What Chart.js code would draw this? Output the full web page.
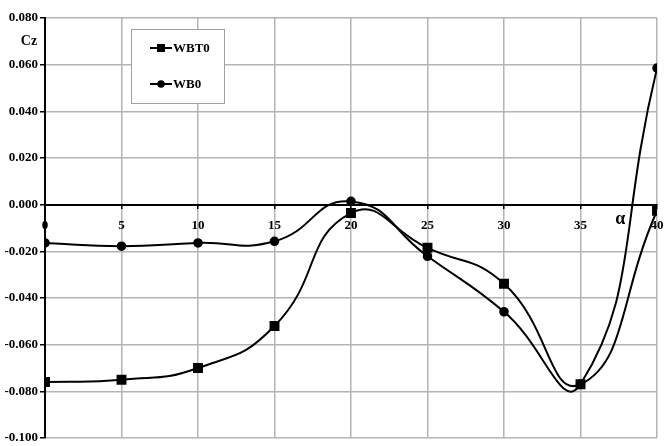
<!DOCTYPE html>
<html>
<head>
<meta charset="utf-8">
<script src="https://cdn.jsdelivr.net/npm/chart.js@4"></script>
<style>
  html, body { margin: 0; padding: 0; background: #fff; }
</style>
</head>
<body>
<canvas id="myChart" width="666" height="446"></canvas>
<script>
var alpha = [0, 5, 10, 15, 20, 25, 30, 35, 40];
var wbt0 = [-0.076, -0.075, -0.070, -0.052, -0.0036, -0.0185, -0.0339, -0.077, -0.0026];
var wb0 = [-0.0164, -0.0178, -0.0164, -0.0157, 0.0014, -0.0221, -0.0459, -0.077, 0.0585];

var serif = "'Liberation Serif', 'Times New Roman', serif";

function points(ys) {
  return alpha.map(function (a, i) {
    return { x: a, y: ys[i] };
  });
}

// legend box and the two free labels (Cz, alpha)
var extras = {
  id: "extras",
  afterDraw: function (chart) {
    var c = chart.ctx;
    var area = chart.chartArea;
    var xs = chart.scales.x;
    var ys = chart.scales.y;
    c.save();

    var bx = area.left + 86, by = area.top + 11;
    c.fillStyle = "#fff";
    c.fillRect(bx, by, 93, 74);
    c.strokeStyle = "#a0a0a0";
    c.lineWidth = 1;
    c.strokeRect(bx + 0.5, by + 0.5, 93, 74);

    var rows = [
      { label: "WBT0", y: by + 19, style: "rect" },
      { label: "WB0", y: by + 55, style: "circle" },
    ];
    rows.forEach(function (r) {
      c.strokeStyle = "#000";
      c.lineWidth = 2;
      c.beginPath();
      c.moveTo(bx + 19, r.y);
      c.lineTo(bx + 41, r.y);
      c.stroke();
      c.fillStyle = "#000";
      if (r.style === "rect") {
        c.fillRect(bx + 26, r.y - 4, 8, 8);
      } else {
        c.beginPath();
        c.arc(bx + 30, r.y, 3.8, 0, Math.PI * 2);
        c.fill();
      }
      c.font = "bold 13px " + serif;
      c.textBaseline = "middle";
      c.textAlign = "left";
      c.fillText(r.label, bx + 42, r.y + 1);
    });

    c.fillStyle = "#000";
    c.font = "bold 14px " + serif;
    c.textAlign = "center";
    c.textBaseline = "middle";
    c.fillText("Cz", area.left - 16, ys.getPixelForValue(0.07));

    c.font = "bold 18px " + serif;
    c.fillText("\u03b1", xs.getPixelForValue(37.6), ys.getPixelForValue(0) + 15);
    c.restore();
  },
};

var ctx = document.getElementById("myChart").getContext("2d");

var myChart = new Chart(ctx, {
  type: "line",
  data: {
    datasets: [
      {
        label: "WBT0",
        data: points(wbt0),
        borderColor: "#000",
        backgroundColor: "#000",
        borderWidth: 2,
        pointStyle: "rect",
        pointRadius: 5.6,
        tension: 0.5,
      },
      {
        label: "WB0",
        data: points(wb0),
        borderColor: "#000",
        backgroundColor: "#000",
        borderWidth: 2,
        pointStyle: "circle",
        pointRadius: 3.8,
        tension: 0.5,
      },
    ],
  },
  options: {
    responsive: false,
    animation: false,
    layout: {
      padding: { top: 18, right: 9, bottom: 8, left: 0 },
    },
    plugins: {
      legend: { display: false },
      tooltip: { enabled: false },
    },
    scales: {
      x: {
        type: "linear",
        position: { y: 0 },
        min: 0,
        max: 40,
        afterFit: function (scale) {
          scale.paddingLeft = 0;
          scale.paddingRight = 0;
        },
        border: { color: "#000", width: 2 },
        grid: {
          color: "#b4b4b4",
          lineWidth: 1.5,
          tickColor: "#000",
          tickLength: 3,
        },
        ticks: {
          stepSize: 5,
          color: "#000",
          padding: 10,
          maxRotation: 0,
          font: { family: serif, size: 13, weight: "bold" },
        },
      },
      y: {
        min: -0.1,
        max: 0.08,
        afterFit: function (scale) {
          scale.width = 45;
          scale.paddingTop = 0;
          scale.paddingBottom = 0;
        },
        border: { color: "#000", width: 2 },
        grid: {
          color: "#b4b4b4",
          lineWidth: 1.5,
          tickColor: "#000",
          tickLength: 5,
        },
        ticks: {
          stepSize: 0.02,
          color: "#000",
          padding: 2,
          font: { family: serif, size: 13, weight: "bold" },
          callback: function (v) {
            return v.toFixed(3);
          },
        },
      },
    },
  },
  plugins: [extras],
});
</script>
</body>
</html>
